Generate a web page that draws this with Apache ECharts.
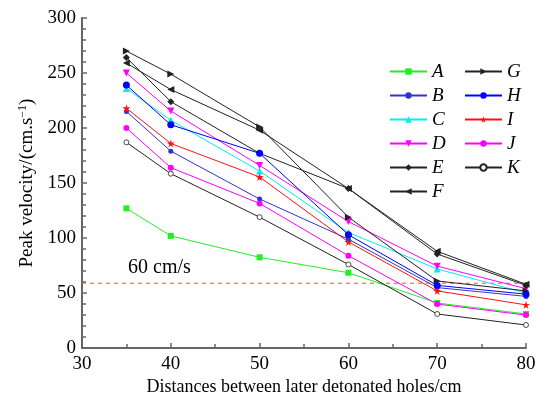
<!DOCTYPE html>
<html><head><meta charset="utf-8">
<script src="https://cdn.jsdelivr.net/npm/echarts@6/dist/echarts.min.js"></script>
<style>html,body{margin:0;padding:0;background:#fff}#c{width:540px;height:401px}</style>
</head><body><div id="c"></div>
<script>
var xValues = [35, 40, 50, 60, 70, 80];
var seriesA = [127, 102, 82.5, 68.5, 41, 31];
var seriesB = [215, 179, 135.5, 99, 55, 47];
var seriesC = [236, 207, 161, 105, 72, 50];
var seriesD = [250, 215.5, 166, 115, 74.5, 54];
var seriesE = [264, 224, 177, 145, 85.5, 57];
var seriesF = [259, 235, 198, 145, 88, 58];
var seriesG = [270, 249, 201, 119, 61, 52];
var seriesH = [239, 203, 177, 103, 57, 49];
var seriesI = [218, 186, 155.5, 96.5, 52, 39.3];
var seriesJ = [200, 164, 131.5, 84, 40, 30];
var seriesK = [187, 158.5, 119, 76, 31, 21];
var thresholdValue = 59;
var thresholdLabel = '60 cm/s';
var xRange = [30, 80];
var yTicks = [0, 50, 100, 150, 200, 250, 300];
var xTicks = [30, 40, 50, 60, 70, 80];

var STAR = 'path://M50,0 L61,35 L98,35 L68,57 L79,91 L50,70 L21,91 L32,57 L2,35 L39,35 Z';
var serif = 'Liberation Serif';

function pts(arr){ return xValues.map(function(x,i){ return [x, arr[i]]; }); }

var defs = [
  {name:'A', d:seriesA, color:'#22ee22', symbol:'rect', size:6},
  {name:'B', d:seriesB, color:'#3333cc', symbol:'circle', size:5},
  {name:'C', d:seriesC, color:'#00eeee', symbol:'triangle', size:7},
  {name:'D', d:seriesD, color:'#ff00ff', symbol:'triangle', size:7, rot:180},
  {name:'E', d:seriesE, color:'#222222', symbol:'diamond', size:7},
  {name:'F', d:seriesF, color:'#222222', symbol:'triangle', size:7, rot:90},
  {name:'G', d:seriesG, color:'#222222', symbol:'triangle', size:7, rot:-90},
  {name:'H', d:seriesH, color:'#0000ff', symbol:'circle', size:7},
  {name:'I', d:seriesI, color:'#ff1111', symbol:STAR, size:8},
  {name:'J', d:seriesJ, color:'#ff00ff', symbol:'circle', size:6},
  {name:'K', d:seriesK, color:'#222222', symbol:'circle', size:5, hollow:true}
];

var series = defs.map(function(s){
  return {
    name:s.name, type:'line', data:pts(s.d), symbol:s.symbol, symbolSize:s.size,
    symbolRotate:s.rot||0, showAllSymbol:true, z: 3,
    lineStyle:{color:s.color, width:1},
    itemStyle:{color:s.hollow?'#ffffff':s.color, borderColor:s.color, borderWidth:s.hollow?0.8:0},
    emphasis:{disabled:true}, animation:false
  };
});
series.push({
  name:'threshold', type:'line', silent:true, z:2, symbol:'none', animation:false,
  data:[[xRange[0], thresholdValue], [xRange[1], thresholdValue]],
  lineStyle:{color:'#ff4444', type:[4,4], width:1},
  emphasis:{disabled:true},
  markLine:{
    silent:true, symbol:['none','none'], animation:false,
    lineStyle:{color:'rgba(255,255,255,0)', width:0},
    label:{show:true, position:'insideStartTop', formatter:thresholdLabel, fontFamily:serif, fontSize:20, color:'#000', distance:[46,5]},
    data:[{yAxis:thresholdValue}]
  }
});

var legendText = {fontFamily:serif, fontStyle:'italic', fontSize:19, color:'#000'};
var chart = echarts.init(document.getElementById('c'), null, {renderer:'canvas'});
chart.setOption({
  animation:false,
  backgroundColor:'#fff',
  grid:{left:82, right:14, top:18, bottom:47},
  legend:[
    {data:['A','B','C','D','E','F'], orient:'vertical', left:384, top:57, itemWidth:37, itemHeight:8, itemGap:5, textStyle:legendText, selectedMode:false},
    {data:['G','H','I','J','K'], orient:'vertical', left:459, top:57, itemWidth:37, itemHeight:8, itemGap:5, textStyle:legendText, selectedMode:false}
  ],
  xAxis:{
    type:'value', min:xRange[0], max:xRange[1], interval:10,
    name:'Distances between later detonated holes/cm', nameLocation:'middle', nameGap:24,
    nameTextStyle:{fontFamily:serif, fontSize:18, color:'#000'},
    axisLine:{lineStyle:{color:'#666', width:2}},
    axisTick:{inside:true, length:5, lineStyle:{color:'#666', width:1.5}},
    minorTick:{show:true, splitNumber:2, length:4, lineStyle:{color:'#666', width:1.5}},
    axisLabel:{fontFamily:serif, fontSize:19, color:'#000', margin:6, formatter:function(v){return xTicks.indexOf(v)>=0?String(v):'';}},
    splitLine:{show:false}
  },
  yAxis:{
    type:'value', min:0, max:300, interval:50,
    name:'{n|Peak velocity/(cm.s}{s|−1}{n|)}', nameLocation:'middle', nameGap:44, nameRotate:90,
    nameTextStyle:{fontFamily:serif, fontSize:19, color:'#000', align:'center', verticalAlign:'middle',
      rich:{n:{fontFamily:serif, fontSize:19, color:'#000'}, s:{fontFamily:serif, fontSize:12, color:'#000', verticalAlign:'top', padding:[0,0,8,0]}}},
    axisLine:{show:true, lineStyle:{color:'#666', width:2}},
    axisTick:{inside:true, length:5, lineStyle:{color:'#666', width:1.5}},
    minorTick:{show:true, splitNumber:5, length:4, lineStyle:{color:'#666', width:1.5}},
    axisLabel:{fontFamily:serif, fontSize:19, color:'#000', margin:6, formatter:function(v){return yTicks.indexOf(v)>=0?String(v):'';}},
    splitLine:{show:false}
  },
  series:series
});
</script></body></html>
